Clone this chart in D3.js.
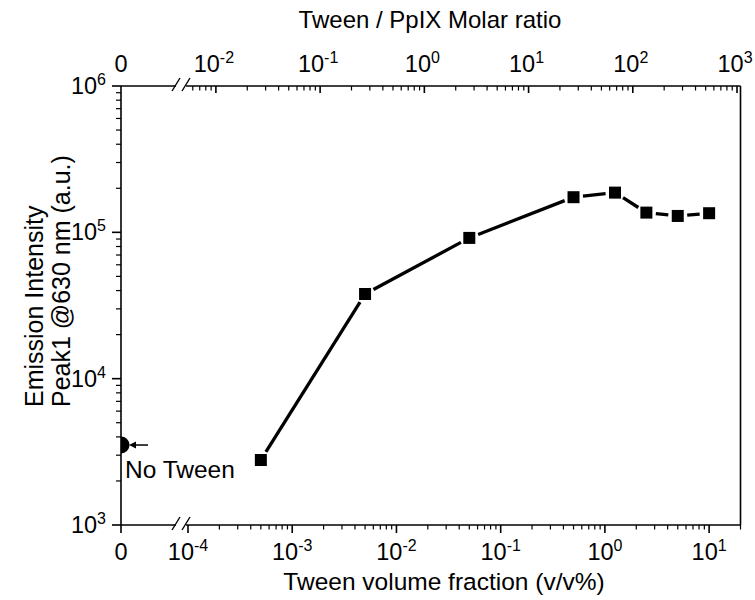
<!DOCTYPE html>
<html><head><meta charset="utf-8">
<script src="https://cdn.jsdelivr.net/npm/d3@7"></script>
<style>
body{margin:0;background:#fff}
text{font-family:"Liberation Sans",Arial,sans-serif;fill:#000}
</style>
</head><body>
<svg id="c" width="755" height="600"></svg>
<script>
// ---- data ----
const volFraction = [5e-4, 5e-3, 5e-2, 0.5, 1.25, 2.5, 5, 10];
const emission = [2780, 37900, 91600, 173800, 186800, 136400, 129400, 135100];
const noTweenEmission = 3520;
const bottomTickExps = [-4, -3, -2, -1, 0, 1];
const topTickExps = [-2, -1, 0, 1, 2, 3];
const yTickExps = [3, 4, 5, 6];
const molarPerVolume = 54;
const xTitle = "Tween volume fraction (v/v%)";
const topTitle = "Tween / PpIX Molar ratio";
const yTitle1 = "Emission Intensity";
const yTitle2 = "Peak1  @630 nm (a.u.)";
const noTweenLabel = "No Tween";

// ---- layout ----
const L = 121, R = 740.5, T = 86, B = 525;
const logStart = 188, brk1 = 176, brk2 = 186;
const xDomain = [1e-4, 20];
const svg = d3.select("#c");

const x = d3.scaleLog().domain(xDomain).range([logStart, R]);
const xTop = d3.scaleLog().domain(xDomain.map(v => v * molarPerVolume)).range([logStart, R]);
const y = d3.scaleLog().domain([1e3, 1e6]).range([B, T]);

const FS = 23.5, SUP = 16;

function minorTicks(domain) {
  const out = [];
  const e0 = Math.floor(Math.log10(domain[0])), e1 = Math.ceil(Math.log10(domain[1]));
  for (let e = e0; e <= e1; e++) for (let m = 2; m <= 9; m++) {
    const v = m * Math.pow(10, e);
    if (v >= domain[0] * 0.999 && v <= domain[1] * 1.001) out.push(v);
  }
  return out;
}
function powLabel(sel, exp, px, py, anchor) {
  const t = sel.append("text").attr("x", px).attr("y", py).attr("text-anchor", anchor).attr("font-size", FS);
  t.append("tspan").text("10");
  t.append("tspan").attr("dy", -9).attr("font-size", SUP).text(String(exp));
  return t;
}

const g = svg.append("g").attr("stroke", "#000").attr("fill", "none");

// frame lines
g.append("line").attr("x1", L).attr("x2", L).attr("y1", T).attr("y2", B).attr("stroke-width", 1.6);
g.append("line").attr("x1", R).attr("x2", R).attr("y1", T).attr("y2", B).attr("stroke-width", 1.6);
[B, T].forEach(yy => {
  g.append("line").attr("x1", L).attr("x2", brk1).attr("y1", yy).attr("y2", yy).attr("stroke-width", 1.6);
  g.append("line").attr("x1", brk2).attr("x2", R).attr("y1", yy).attr("y2", yy).attr("stroke-width", 1.6);
  [brk1, brk2].forEach(bx => {
    g.append("line").attr("x1", bx - 4).attr("x2", bx + 4).attr("y1", yy + 5).attr("y2", yy - 8).attr("stroke-width", 1.4);
  });
});

// bottom ticks (outward)
g.append("line").attr("x1", L).attr("x2", L).attr("y1", B).attr("y2", B + 8).attr("stroke-width", 1.6);
bottomTickExps.forEach(e => {
  const px = x(Math.pow(10, e));
  g.append("line").attr("x1", px).attr("x2", px).attr("y1", B).attr("y2", B + 8).attr("stroke-width", 1.6);
});
minorTicks(xDomain).forEach(v => {
  const px = x(v);
  g.append("line").attr("x1", px).attr("x2", px).attr("y1", B).attr("y2", B + 4.5).attr("stroke-width", 1.2);
});
// top ticks (inward)
const topDom = xTop.domain();
topTickExps.forEach(e => {
  const px = xTop(Math.pow(10, e));
  g.append("line").attr("x1", px).attr("x2", px).attr("y1", T).attr("y2", T + 7).attr("stroke-width", 1.6);
});
minorTicks(topDom).forEach(v => {
  const px = xTop(v);
  g.append("line").attr("x1", px).attr("x2", px).attr("y1", T).attr("y2", T + 4.5).attr("stroke-width", 1.2);
});
// left ticks (outward)
yTickExps.forEach(e => {
  const py = y(Math.pow(10, e));
  g.append("line").attr("x1", L - 9).attr("x2", L).attr("y1", py).attr("y2", py).attr("stroke-width", 1.6);
});
minorTicks(y.domain()).forEach(v => {
  const py = y(v);
  g.append("line").attr("x1", L - 5).attr("x2", L).attr("y1", py).attr("y2", py).attr("stroke-width", 1.2);
});

// tick labels
const lab = svg.append("g");
lab.append("text").attr("x", L).attr("y", B + 35).attr("text-anchor", "middle").attr("font-size", FS).text("0");
bottomTickExps.forEach(e => powLabel(lab, e, x(Math.pow(10, e)), B + 35, "middle"));
lab.append("text").attr("x", L).attr("y", T - 14).attr("text-anchor", "middle").attr("font-size", FS).text("0");
topTickExps.forEach(e => powLabel(lab, e, xTop(Math.pow(10, e)) - 2, T - 14, "middle"));
yTickExps.forEach(e => powLabel(lab, e, 106, y(Math.pow(10, e)) + 8, "end"));

// titles
lab.append("text").attr("x", 444).attr("y", 590).attr("text-anchor", "middle").attr("font-size", 24.5).text(xTitle);
lab.append("text").attr("x", 430).attr("y", 28).attr("text-anchor", "middle").attr("font-size", 24).text(topTitle);
lab.append("text").attr("transform", "translate(43,407) rotate(-90)").attr("text-anchor", "start").attr("font-size", 25).text(yTitle1);
lab.append("text").attr("transform", "translate(70,407) rotate(-90)").attr("text-anchor", "start").attr("font-size", 25).text(yTitle2);

// clip for plot area
svg.append("clipPath").attr("id", "pc").append("rect").attr("x", L).attr("y", T).attr("width", R - L).attr("height", B - T);

// data line with gaps near markers
const pts = volFraction.map((v, i) => [x(v), y(emission[i])]);
const gap = 9.5;
const dg = svg.append("g").attr("stroke", "#000").attr("stroke-width", 3.3);
for (let i = 0; i < pts.length - 1; i++) {
  const [x1, y1] = pts[i], [x2, y2] = pts[i + 1];
  const len = Math.hypot(x2 - x1, y2 - y1);
  if (len <= 2 * gap) continue;
  const ux = (x2 - x1) / len, uy = (y2 - y1) / len;
  dg.append("line").attr("x1", x1 + ux * gap).attr("y1", y1 + uy * gap).attr("x2", x2 - ux * gap).attr("y2", y2 - uy * gap);
}
const ms = 12;
svg.append("g").selectAll("rect").data(pts).join("rect")
  .attr("x", d => d[0] - ms / 2).attr("y", d => d[1] - ms / 2).attr("width", ms).attr("height", ms).attr("fill", "#000");

// No Tween marker (half circle clipped at the axis)
const ny = y(noTweenEmission);
svg.append("circle").attr("cx", L).attr("cy", ny).attr("r", 8.5).attr("fill", "#000").attr("clip-path", "url(#pc)");
svg.append("line").attr("x1", L + 27).attr("x2", L + 13).attr("y1", ny).attr("y2", ny).attr("stroke", "#000").attr("stroke-width", 1.5);
svg.append("path").attr("d", `M${L + 8},${ny} L${L + 15},${ny - 3.5} L${L + 15},${ny + 3.5} Z`).attr("fill", "#000");
lab.append("text").attr("x", 125).attr("y", 478).attr("font-size", 24.5).text(noTweenLabel);
</script>
</body></html>
